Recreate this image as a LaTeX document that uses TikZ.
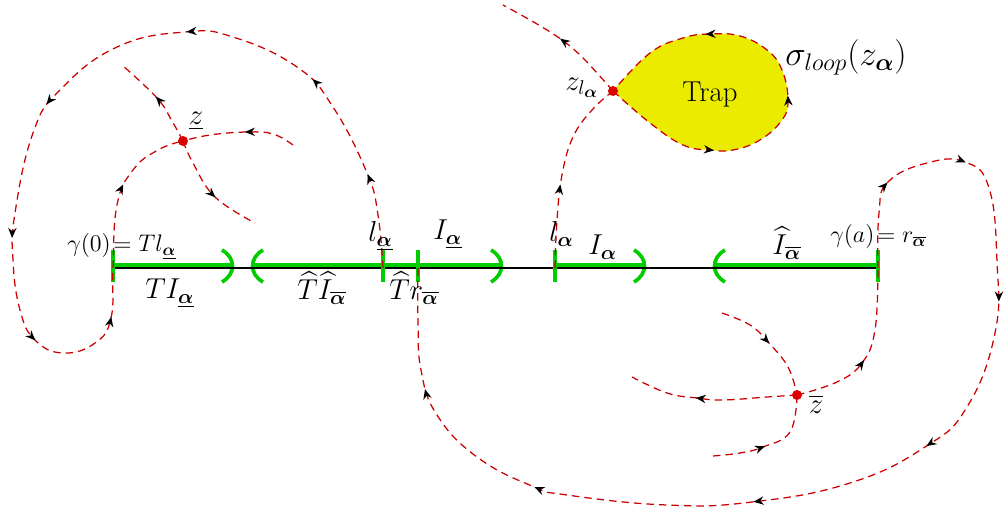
\documentclass[tikz,border=0pt]{standalone}
\usepackage{amsmath}
\usetikzlibrary{arrows.meta,decorations.markings}
\definecolor{trajred}{RGB}{204,0,0}
\definecolor{grn}{RGB}{0,204,0}
\definecolor{trapy}{RGB}{235,235,0}
\definecolor{dotred}{RGB}{222,0,0}
\tikzset{
  traj/.style={draw=trajred, line width=0.75pt, dash pattern=on 4.5pt off 3pt},
  am/.style={postaction={decorate, decoration={markings,
      mark=at position #1 with {\arrow{Stealth[length=6pt,width=5pt,color=black]}}}}},
  axisline/.style={draw=black, line width=1.2pt},
  grnline/.style={draw=grn, line width=3.3pt},
  grnparen/.style={draw=grn, line width=2.2pt},
  grntick/.style={draw=grn, line width=2.4pt},
  sdot/.style={fill=dotred},
  lblmain/.style={inner sep=0pt, font=\fontsize{17.28}{20}\selectfont},
  lblsmall/.style={inner sep=0pt, font=\fontsize{14}{16}\selectfont},
}
\newcommand{\ba}{\boldsymbol{\alpha}}
\begin{document}
\begin{tikzpicture}[x=0.6pt,y=-0.6pt]
\useasboundingbox (0,0) rectangle (1007,513);

% key points
\coordinate (A) at (113,268);
\coordinate (B) at (383,268);
\coordinate (C) at (418,268);
\coordinate (D) at (555,268);
\coordinate (E) at (878,268);
\coordinate (z) at (183,141);
\coordinate (zl) at (613,91);
\coordinate (zb) at (797,395);

% trap region
\fill[trapy] plot[smooth, tension=0.7] coordinates {(zl) (650,123) (683,145) (710,150) (733,150) (760,140) (782,120) (788,100) (782,70) (767,50) (740,36) (710,34) (683,38) (650,53) (zl)};

% green intervals
\draw[grnline] (113,265.5) -- (232,265.5);
\draw[grnline] (253,265.5) -- (502,265.5);
\draw[grnline] (555,265.5) -- (644,265.5);
\draw[grnline] (714,265.5) -- (878,265.5);
\draw[grnparen] (222,250) .. controls (236,258) and (236,274) .. (222,282);
\draw[grnparen] (263,250) .. controls (249,258) and (249,274) .. (263,282);
\draw[grnparen] (491,250) .. controls (505,258) and (505,274) .. (491,282);
\draw[grnparen] (634,250) .. controls (648,258) and (648,274) .. (634,282);
\draw[grnparen] (725,250) .. controls (711,258) and (711,274) .. (725,282);
% black line
\draw[axisline] (A) -- (E);
% ticks
\foreach \p in {A,B,C,D,E} \draw[grntick] (\p) ++(0,-18) -- ++(0,32);

% trajectories
\draw[traj, am/.list={0.090,0.194,0.324,0.478,0.609,0.710,0.802,0.928}]
  plot[smooth, tension=0.75] coordinates {(B) (378,215) (367,173) (333,107) (297,67) (233,37) (185,32) (117,47) (60,90) (33,133) (15,213) (13,260) (20,310) (35,340) (63,353) (95,343) (111,318) (A) (117,205) (133,170) (158,150) (z)};
\draw[traj, am=0.45] plot[smooth, tension=0.7] coordinates {(293,145) (273,134) (247,132) (210,135) (z)};
\draw[traj, am=0.53] plot[smooth, tension=0.7] coordinates {(z) (172,121) (157,98) (122,65)};
\draw[traj, am=0.58] plot[smooth, tension=0.7] coordinates {(z) (193,163) (215,197) (255,223)};

\draw[traj, am=0.45]
  plot[smooth, tension=0.7] coordinates {(zb) (837,382) (862,363) (875,330) (E)};
\draw[traj, am/.list={0.075,0.147,0.276,0.42,0.577,0.766,0.896}]
  plot[smooth, tension=0.75] coordinates {(E) (879,213) (888,182) (927,163) (965,162) (989,188) (997,262) (995,333) (967,407) (925,447) (850,483) (752,502) (667,505) (567,495) (532,486) (477,457) (437,415) (421,370) (418,320) (C)};
\draw[traj, am=0.49] plot[smooth, tension=0.7] coordinates {(722,313) (750,325) (768,342) (788,367) (zb)};
\draw[traj, am=0.44] plot[smooth, tension=0.7] coordinates {(713,456) (740,453) (763,447) (790,432) (zb)};
\draw[traj, am=0.60] plot[smooth, tension=0.7] coordinates {(zb) (767,397) (723,400) (697,398) (667,393) (632,377)};

\draw[traj, am=0.43] plot[smooth, tension=0.7] coordinates {(D) (557,220) (562,175) (573,137) (592,110) (zl)};
\draw[traj, am=0.53] plot[smooth, tension=0.7] coordinates {(zl) (597,73) (580,55) (562,40) (537,24) (503,5)};
\draw[traj, am/.list={0.265,0.494,0.752}] plot[smooth, tension=0.7] coordinates {(zl) (650,123) (683,145) (710,150) (733,150) (760,140) (782,120) (788,100) (782,70) (767,50) (740,36) (710,34) (683,38) (650,53) (zl)};

% singular points
\fill[sdot] (z) circle[radius=3pt];
\fill[sdot] (zl) circle[radius=3pt];
\fill[sdot] (zb) circle[radius=3pt];

% labels
\node[lblmain] (zlab) at (196,121) {$\underline{z}$};
\node[lblmain] (zllab) at (582,88) {$z_{l_{\ba}}$};
\node[lblmain] (zblab) at (816,404) {$\overline{z}$};
\node[inner sep=0pt, font=\fontsize{20.74}{24}\selectfont] (sig) at (846,57) {$\sigma_{loop}(z_{\ba})$};
\node[inner sep=0pt, font=\fontsize{17.28}{20}\selectfont] (trap) at (710,95) {Trap};
\node[lblsmall, anchor=base west] (g0) at (67,252) {$\gamma(0)\!=Tl_{\underline{\ba}}$};
\node[lblsmall, anchor=base west] (ga) at (830,243) {$\gamma(a)\!=r_{\overline{\ba}}$};
\node[lblmain, anchor=base west] (TI) at (145,299) {$TI_{\underline{\ba}}$};
\node[lblmain, anchor=base west] (THI) at (297,300) {$\widehat{T}\widehat{I}_{\overline{\ba}}$};
\node[lblmain, anchor=base west] (Tr) at (389,300) {$\widehat{T}r_{\overline{\ba}}$};
\node[lblmain, anchor=base west] (l1) at (368,242) {$l_{\underline{\ba}}$};
\node[lblmain, anchor=base west] (I1) at (433,240) {$I_{\underline{\ba}}$};
\node[lblmain, anchor=base west] (l2) at (549,242) {$l_{\ba}$};
\node[lblmain, anchor=base west] (I2) at (588,255) {$I_{\ba}$};
\node[lblmain, anchor=base west] (HI) at (772,255) {$\widehat{I}_{\overline{\ba}}$};
\end{tikzpicture}
\end{document}
